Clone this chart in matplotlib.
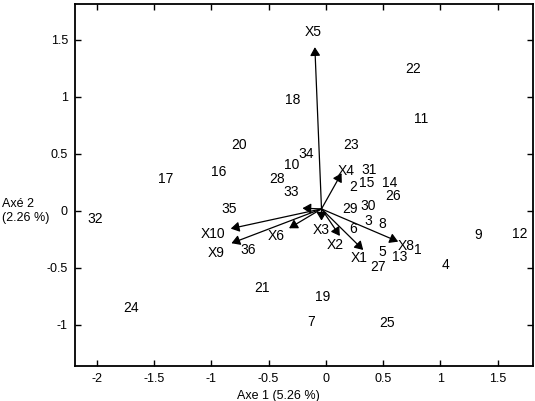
import matplotlib
matplotlib.use("Agg")
import matplotlib.pyplot as plt

plt.rcParams['font.family'] = ['Liberation Sans', 'DejaVu Sans']

# Individuals (labels and coordinates on axes 1 and 2)
point_labels = [str(i) for i in range(1, 37)]
point_x = [0.806, 0.238, 0.369, 1.048, 0.495, 0.238, -0.125, 0.492, 1.330, -0.294,
           0.830, 1.694, 0.640, 0.559, 0.355, -0.934, -1.397, -0.291, -0.029, -0.757,
           -0.555, 0.762, 0.218, -1.697, 0.530, 0.583, 0.452, -0.425, 0.210, 0.369,
           0.376, -2.009, -0.300, -0.175, -0.847, -0.679]
point_y = [-0.342, 0.213, -0.088, -0.474, -0.357, -0.158, -0.976, -0.117, -0.211, 0.406,
           0.804, -0.202, -0.401, 0.248, 0.243, 0.339, 0.281, 0.974, -0.752, 0.579,
           -0.673, 1.243, 0.579, -0.848, -0.985, 0.132, -0.489, 0.278, 0.018, 0.044,
           0.360, -0.073, 0.164, 0.497, 0.015, -0.342]

# Variables (arrows)
var_names = ['X1', 'X2', 'X3', 'X4', 'X5', 'X6', 'X7', 'X8', 'X9', 'X10']
arrow_origin = (-0.038, 0.018)
var_x = [0.326, 0.122, -0.038, 0.137, -0.096, -0.321, -0.204, 0.631, -0.824, -0.830]
var_y = [-0.342, -0.219, -0.085, 0.331, 1.436, -0.152, 0.024, -0.269, -0.283, -0.155]
# label positions (X7 label not visible in the original)
var_label_x = [0.291, 0.079, -0.038, 0.181, -0.111, -0.437, None, 0.699, -0.955, -0.984]
var_label_y = [-0.415, -0.298, -0.167, 0.354, 1.573, -0.219, None, -0.307, -0.366, -0.202]

xticks = [-2, -1.5, -1, -0.5, 0, 0.5, 1, 1.5]
xtick_labels = ['-2', '-1.5', '-1', '-0.5', '0', '0.5', '1', '1.5']
yticks = [-1, -0.5, 0, 0.5, 1, 1.5]
ytick_labels = ['-1', '-0.5', '0', '0.5', '1', '1.5']

fig = plt.figure(figsize=(5.35, 4.01), dpi=100)
ax = fig.add_axes([0.140, 0.088, 0.8557, 0.901])
ax.set_xlim(-2.19, 1.805)
ax.set_ylim(-1.357, 1.811)

for lab, x, y in zip(point_labels, point_x, point_y):
    ax.text(x, y, lab, ha='center', va='center', fontsize=10, color='black')

for name, x, y, lx, ly in zip(var_names, var_x, var_y, var_label_x, var_label_y):
    ax.annotate('', xy=(x, y), xytext=arrow_origin,
                arrowprops=dict(arrowstyle='-|>,head_length=0.5,head_width=0.3',
                                color='black', lw=0.9, shrinkA=0, shrinkB=0))
    if lx is not None:
        ax.text(lx, ly, name, ha='center', va='center', fontsize=10, color='black')

ax.set_xticks(xticks)
ax.set_xticklabels(xtick_labels)
ax.set_yticks(yticks)
ax.set_yticklabels(ytick_labels)
ax.tick_params(direction='in', length=4, width=1, top=True, right=True,
               labeltop=False, labelright=False, labelsize=9, pad=5)
for s in ax.spines.values():
    s.set_linewidth(1.3)

fig.text(278 / 535, 1 - 395.7 / 401, 'Axe 1 (5.26 %)', ha='center', va='center', fontsize=9)
fig.text(2 / 535, 1 - 211 / 401, 'Axé 2\n(2.26 %)', ha='left', va='center', fontsize=9,
         linespacing=1.2)

fig.savefig('out.png', dpi=100)
